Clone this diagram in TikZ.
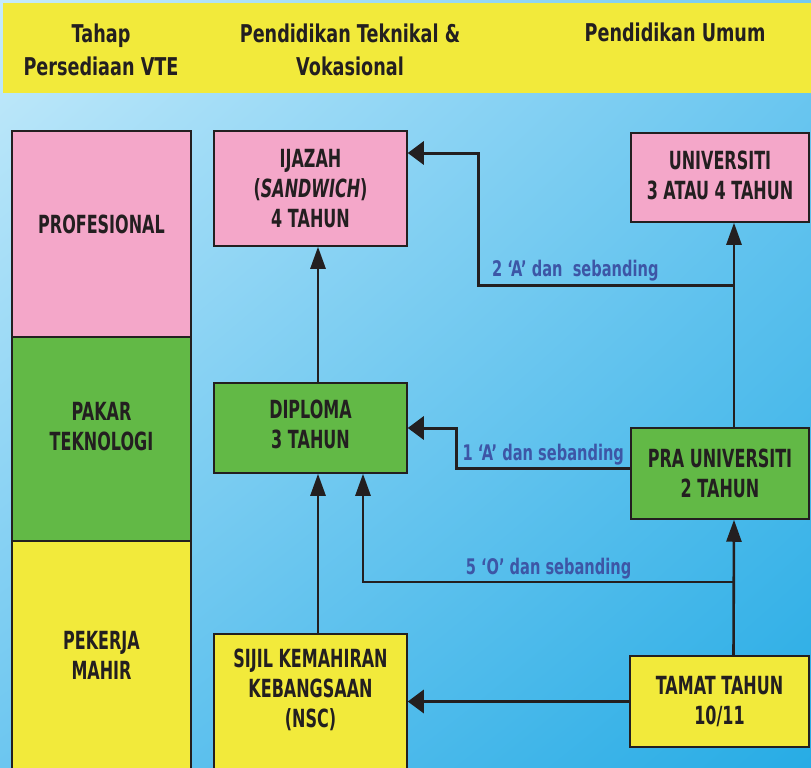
\documentclass[tikz,border=0pt]{standalone}
\usepackage{fontspec}
\setmainfont{DejaVu Sans}[FakeStretch=0.72]
\newfontfamily\capsfont{DejaVu Sans}[FakeStretch=0.64]
\newfontfamily\lblfont{DejaVu Sans}[FakeStretch=0.68]
\usetikzlibrary{arrows.meta,positioning,shadings}

\definecolor{hdyellow}{HTML}{F2EA3B}
\definecolor{boxpink}{HTML}{F4A7C9}
\definecolor{boxgreen}{HTML}{62B946}
\definecolor{boxyellow}{HTML}{F2EA3B}
\definecolor{lblblue}{HTML}{3D56A6}
\definecolor{inkblack}{HTML}{231F20}
\definecolor{bgtl}{HTML}{C6EBFB}
\definecolor{bgtr}{HTML}{72C9F1}
\definecolor{bgbl}{HTML}{6CC6F0}
\definecolor{bgbr}{HTML}{27ACE5}

\tikzset{
  boxtext/.style={align=center, inner sep=0pt, text=inkblack,
    font=\capsfont\bfseries\fontsize{25}{30}\selectfont},
  stagebox/.style={boxtext, draw=inkblack, line width=1.5pt, minimum width=179pt},
  pinkbox/.style={stagebox, fill=boxpink},
  greenbox/.style={stagebox, fill=boxgreen},
  yellowbox/.style={stagebox, fill=boxyellow},
  hdtext/.style={align=center, inner sep=0pt, text=inkblack,
    font=\bfseries\fontsize{24.5}{33}\selectfont},
  lbl/.style={text=lblblue, inner sep=2pt, font=\lblfont\bfseries\fontsize{21.5}{26}\selectfont},
  vconn/.style={draw=inkblack, line width=2.6pt, -{Triangle[length=22pt,width=15pt]}},
  hconn/.style={draw=inkblack, line width=3pt, -{Triangle[length=16pt,width=23pt]}}
}

\begin{document}
\begin{tikzpicture}[x=1pt,y=-1pt]
\useasboundingbox (0,0) rectangle (811,768);
\clip (0,0) rectangle (811,768);
\shade[upper left=bgtl, upper right=bgtr, lower left=bgbl, lower right=bgbr] (0,0) rectangle (811,768);

% header band
\fill[hdyellow] (3,3) rectangle (811,93);
\node[hdtext] (stagehd) at (101,50) {Tahap\\Persediaan VTE};
\node[hdtext] (vtehd) at (350,50) {Pendidikan Teknikal \&\\Vokasional};
\node[hdtext, anchor=base] (umumhd) at (675,42) {Pendidikan Umum};

% stage column
\node[pinkbox, minimum height=206pt, text depth=19pt] (prof) at (101.5,234) {PROFESIONAL};
\node[greenbox, minimum height=204pt, text depth=26pt] (pakar) at (101.5,439) {PAKAR\\TEKNOLOGI};
\node[yellowbox, minimum height=229pt] (pekerja) at (101.5,655.5) {PEKERJA\\MAHIR};

% technical and vocational path
\node[pinkbox, minimum width=193pt, minimum height=115pt] (ijazah) at (310.5,188.5)
  {IJAZAH\\(\textit{SANDWICH})\\4 TAHUN};
\node[greenbox, minimum width=193pt, minimum height=90pt, text depth=8pt] (diploma) at (310.5,428)
  {DIPLOMA\\3 TAHUN};
\node[yellowbox, minimum width=193pt, minimum height=150pt, anchor=north] (sijil) at (310.5,633) {};
\node[boxtext] (sijiltext) at (310.5,690) {SIJIL KEMAHIRAN\\KEBANGSAAN\\(NSC)};

% general path
\node[pinkbox, minimum width=178pt, minimum height=89pt, text depth=4pt] (univ) at (720,177.5)
  {UNIVERSITI\\3 ATAU 4 TAHUN};
\node[greenbox, minimum width=178pt, minimum height=91pt] (pra) at (720,473.5)
  {PRA UNIVERSITI\\2 TAHUN};
\node[yellowbox, minimum width=179pt, minimum height=91pt] (tamat) at (719.5,701.5)
  {TAMAT TAHUN\\10/11};

% connectors
\draw[hconn] (tamat.west) -- (tamat.west -| sijil.east);
\draw[vconn] ([xshift=14pt]tamat.north) -- ([xshift=14pt]pra.south);
\draw[vconn] ([xshift=14pt]pra.north) -- ([xshift=14pt]univ.south);
\draw[vconn] ([xshift=7.5pt]sijil.north) -- ([xshift=7.5pt]diploma.south);
\draw[vconn] ([xshift=7.5pt]diploma.north) -- ([xshift=7.5pt]ijazah.south);

\coordinate (obranch) at (734,582);
\draw[vconn] (obranch) -| ([xshift=52.5pt]diploma.south)
  node[lbl, above, pos=0.25] {5 ‘O’ dan sebanding};
\draw[hconn] ([yshift=5pt]pra.west) -- ++(-174,0)
  node[lbl, above, midway] {1 ‘A’ dan sebanding} |- (diploma.east);
\coordinate (abranch) at (734,285);
\draw[hconn] (abranch) -- ++(-256,0)
  node[lbl, above, pos=0.62] {2 ‘A’ dan\ \ sebanding} |- ([yshift=35.5pt]ijazah.east);
\end{tikzpicture}
\end{document}
